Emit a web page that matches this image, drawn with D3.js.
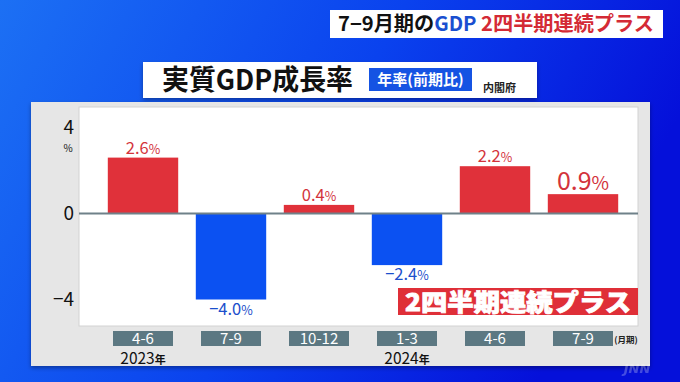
<!DOCTYPE html>
<html>
<head>
<meta charset="utf-8">
<script src="https://cdn.jsdelivr.net/npm/d3@7"></script>
<style>
  body { margin: 0; background: #0a3ae8; }
  svg { display: block; font-family: "Noto Sans CJK JP", "Noto Sans", sans-serif; }
</style>
</head>
<body>
<svg width="680" height="382"></svg>
<script>
// data
const quarters = ["4-6", "7-9", "10-12", "1-3", "4-6", "7-9"];
const years = ["2023年", "", "", "2024年", "", ""];
const growth = [2.6, -4.0, 0.4, -2.4, 2.2, 0.9];
const yTicks = [-4, 0, 4];

const width = 680;
const height = 382;
const plot = { left: 79, right: 638, top: 107, bottom: 326 };

const svg = d3.select("svg");

// background gradient
const defs = svg.append("defs");
const bg = defs.append("linearGradient")
    .attr("id", "bg")
    .attr("x1", "0%").attr("y1", "0%")
    .attr("x2", "100%").attr("y2", "30%");
bg.append("stop").attr("offset", "0%").attr("stop-color", "#1c70f4");
bg.append("stop").attr("offset", "55%").attr("stop-color", "#0a42ee");
bg.append("stop").attr("offset", "100%").attr("stop-color", "#0510da");

const shadow = defs.append("filter").attr("id", "shadow")
    .attr("x", "-5%").attr("y", "-5%").attr("width", "110%").attr("height", "115%");
shadow.append("feDropShadow")
    .attr("dx", 0).attr("dy", 2).attr("stdDeviation", 2)
    .attr("flood-color", "#000").attr("flood-opacity", 0.35);

svg.append("rect")
    .attr("width", width).attr("height", height)
    .attr("fill", "url(#bg)");

// top title box
svg.append("rect")
    .attr("x", 330).attr("y", 10).attr("width", 333).attr("height", 28)
    .attr("fill", "#fff");
const title = svg.append("text")
    .attr("x", 338).attr("y", 31)
    .attr("font-size", 20).attr("font-weight", "bold")
    .attr("textLength", 316).attr("lengthAdjust", "spacingAndGlyphs");
title.append("tspan").attr("fill", "#111").text("7−9月期の");
title.append("tspan").attr("fill", "#1a4fd0").text("GDP");
title.append("tspan").attr("fill", "#d42a35").text(" 2四半期連続プラス");

// gray panel
svg.append("rect")
    .attr("x", 31).attr("y", 102).attr("width", 619).attr("height", 264)
    .attr("fill", "#e6e6e6")
    .attr("filter", "url(#shadow)");

// subtitle box
svg.append("rect")
    .attr("x", 143).attr("y", 62).attr("width", 394).attr("height", 36)
    .attr("fill", "#fff")
    .attr("filter", "url(#shadow)");
svg.append("text")
    .attr("x", 162).attr("y", 90)
    .attr("font-size", 28).attr("font-weight", "bold").attr("fill", "#111")
    .attr("textLength", 191).attr("lengthAdjust", "spacingAndGlyphs")
    .text("実質GDP成長率");
svg.append("rect")
    .attr("x", 369).attr("y", 68).attr("width", 103).attr("height", 23)
    .attr("fill", "#1553e3");
svg.append("text")
    .attr("x", 420.5).attr("y", 85)
    .attr("text-anchor", "middle")
    .attr("font-size", 15).attr("font-weight", "bold").attr("fill", "#fff")
    .text("年率(前期比)");
svg.append("text")
    .attr("x", 483).attr("y", 92)
    .attr("font-size", 11).attr("font-weight", "bold").attr("fill", "#222")
    .text("内閣府");

// plot area
svg.append("rect")
    .attr("x", plot.left).attr("y", plot.top)
    .attr("width", plot.right - plot.left).attr("height", plot.bottom - plot.top)
    .attr("fill", "#fff")
    .attr("stroke", "#d2d2d2").attr("stroke-width", 1);

// scales
const x = d3.scaleBand()
    .domain(d3.range(quarters.length))
    .range([99, 627])
    .paddingInner(0.2)
    .paddingOuter(0.1);

const y = d3.scaleLinear()
    .domain([-4, 4])
    .range([299.5, 127.5]);

const red = "#e0313a";
const blue = "#0b51f2";

// y axis
const yAxis = d3.axisLeft(y)
    .tickValues(yTicks)
    .tickSize(0)
    .tickPadding(0);
const yg = svg.append("g")
    .attr("transform", "translate(74,0)")
    .call(yAxis);
yg.select(".domain").remove();
yg.selectAll("text")
    .attr("font-size", 19)
    .attr("fill", "#111")
    .attr("font-family", "'Noto Sans CJK JP', sans-serif");
svg.append("text")
    .attr("x", 68).attr("y", 152)
    .attr("text-anchor", "middle")
    .attr("font-size", 10).attr("fill", "#111")
    .text("%");

// bars
svg.append("g")
  .selectAll("rect")
  .data(growth)
  .join("rect")
    .attr("x", (d, i) => x(i))
    .attr("width", x.bandwidth())
    .attr("y", d => y(Math.max(0, d)))
    .attr("height", d => Math.abs(y(d) - y(0)))
    .attr("fill", d => d >= 0 ? red : blue);

// zero line
svg.append("line")
    .attr("x1", plot.left).attr("x2", plot.right)
    .attr("y1", y(0)).attr("y2", y(0))
    .attr("stroke", "#6f8189").attr("stroke-width", 2);

// value labels
const labels = svg.append("g")
  .selectAll("text")
  .data(growth)
  .join("text")
    .attr("x", (d, i) => x(i) + x.bandwidth() / 2)
    .attr("y", d => d >= 0 ? y(d) - 4 : y(d) + 15)
    .attr("text-anchor", "middle")
    .attr("fill", d => d >= 0 ? "#d3333b" : "#1b4fcc")
    .attr("font-size", (d, i) => i === growth.length - 1 ? 25 : 16.5);
labels.append("tspan")
    .text(d => d3.format(".1f")(d));
labels.append("tspan")
    .attr("font-size", (d, i) => i === growth.length - 1 ? 19 : 12.5)
    .text("%");

// banner
svg.append("rect")
    .attr("x", 398).attr("y", 288).attr("width", 240).attr("height", 27)
    .attr("fill", "#df2f38");
svg.append("text")
    .attr("x", 518).attr("y", 311)
    .attr("text-anchor", "middle")
    .attr("font-size", 24).attr("font-weight", 900)
    .attr("fill", "#fff").attr("stroke", "#fff").attr("stroke-width", 0.8)
    .attr("textLength", 226).attr("lengthAdjust", "spacingAndGlyphs")
    .text("2四半期連続プラス");

// category boxes
const cats = svg.append("g")
  .selectAll("g")
  .data(quarters)
  .join("g")
    .attr("transform", (d, i) => `translate(${x(i) + x.bandwidth() / 2},331)`);
cats.append("rect")
    .attr("x", -30).attr("width", 60).attr("height", 15)
    .attr("fill", "#5c7882");
cats.append("text")
    .attr("y", 13)
    .attr("text-anchor", "middle")
    .attr("font-size", 15).attr("fill", "#fff")
    .text(d => d);

svg.append("text")
    .attr("x", 626).attr("y", 343)
    .attr("text-anchor", "middle")
    .attr("font-size", 8.5).attr("font-weight", "bold").attr("fill", "#222")
    .text("(月期)");

// year labels
const yl = svg.append("g")
  .selectAll("text")
  .data(years.map((d, i) => ({ d, i })).filter(o => o.d))
  .join("text")
    .attr("x", o => x(o.i) + x.bandwidth() / 2)
    .attr("y", 364)
    .attr("text-anchor", "middle")
    .attr("fill", "#111");
yl.append("tspan")
    .attr("font-size", 15.5)
    .text(o => o.d.replace("年", ""));
yl.append("tspan")
    .attr("font-size", 11)
    .attr("font-weight", "bold")
    .text("年");

// watermark
svg.append("text")
    .attr("x", 637).attr("y", 373)
    .attr("text-anchor", "middle")
    .attr("font-size", 13).attr("font-weight", "bold").attr("font-style", "italic")
    .attr("fill", "#fff").attr("opacity", 0.25)
    .attr("font-family", "'DejaVu Sans', sans-serif")
    .text("JNN");
</script>
</body>
</html>
